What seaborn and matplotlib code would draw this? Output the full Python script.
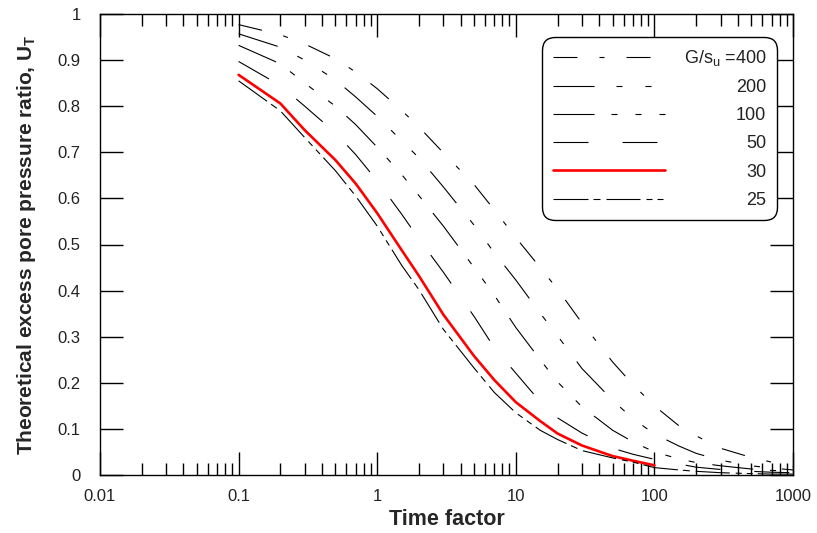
import matplotlib
matplotlib.use("Agg")
import matplotlib.pyplot as plt
import seaborn as sns
from matplotlib.ticker import LogLocator, FixedLocator, FixedFormatter, NullFormatter

# ---------------- data ----------------
time_factor = [0.1, 0.2, 0.3, 0.5, 0.7, 1, 1.5, 2, 3, 5, 7, 10, 15, 20, 30,
               50, 70, 100, 150, 200, 300, 500, 700, 1000]
u_400 = [0.977, 0.955, 0.935, 0.903, 0.874, 0.838, 0.791, 0.755, 0.699, 0.630,
         0.575, 0.515, 0.450, 0.403, 0.330, 0.245, 0.196, 0.150, 0.107, 0.085,
         0.058, 0.038, 0.028, 0.018]
u_200 = [0.957, 0.928, 0.900, 0.857, 0.820, 0.778, 0.725, 0.688, 0.625, 0.542,
         0.482, 0.423, 0.351, 0.302, 0.231, 0.162, 0.122, 0.089, 0.063, 0.047,
         0.032, 0.020, 0.015, 0.011]
u_100 = [0.932, 0.892, 0.850, 0.800, 0.760, 0.711, 0.652, 0.606, 0.540, 0.450,
         0.390, 0.320, 0.250, 0.202, 0.148, 0.097, 0.072, 0.050, 0.035, 0.027,
         0.020, 0.013, 0.010, 0.008]
u_50 = [0.897, 0.845, 0.800, 0.742, 0.695, 0.638, 0.566, 0.512, 0.440, 0.344,
        0.276, 0.221, 0.159, 0.124, 0.091, 0.058, 0.045, 0.034, 0.024, 0.017,
        0.012, 0.008, 0.006, 0.005]
time_factor_30 = [0.1, 0.2, 0.3, 0.5, 0.7, 1, 1.5, 2, 3, 5, 7, 10, 15, 20, 30,
                  50, 70, 100]
u_30 = [0.868, 0.806, 0.748, 0.683, 0.632, 0.568, 0.488, 0.432, 0.348, 0.258,
        0.206, 0.158, 0.117, 0.090, 0.064, 0.041, 0.031, 0.021]
u_25 = [0.855, 0.790, 0.732, 0.660, 0.605, 0.540, 0.455, 0.402, 0.316, 0.232,
        0.179, 0.135, 0.097, 0.077, 0.053, 0.037, 0.028, 0.016, 0.011, 0.008,
        0.005, 0.003, 0.002, 0.002]

legend_labels = ["G/s$_\\mathregular{u}$ =400", "200", "100", "50", "30", "25"]
x_tick_values = [0.01, 0.1, 1, 10, 100, 1000]
x_tick_labels = ["0.01", "0.1", "1", "10", "100", "1000"]
y_tick_values = [0, 0.1, 0.2, 0.3, 0.4, 0.5, 0.6, 0.7, 0.8, 0.9, 1]
y_tick_labels = ["0", "0.1", "0.2", "0.3", "0.4", "0.5", "0.6", "0.7", "0.8", "0.9", "1"]

# ---------------- style ----------------
sns.set_theme(style="white")
plt.rcParams["font.family"] = ["Liberation Sans", "DejaVu Sans"]
plt.rcParams["mathtext.fontset"] = "custom"
plt.rcParams["mathtext.rm"] = "Liberation Sans"
plt.rcParams["lines.scale_dashes"] = False

px = 0.72  # points per pixel at dpi 100


def dash(*pix):
    return (0, tuple(p * px for p in pix))


series = [
    (time_factor, u_400, "black", 0.8, dash(24, 22, 5, 22)),
    (time_factor, u_200, "black", 0.8, dash(41, 22, 6, 23, 6, 22)),
    (time_factor, u_100, "black", 0.8, dash(41, 17, 6, 18, 6, 18, 6, 18)),
    (time_factor, u_50, "black", 0.8, dash(35, 34)),
    (time_factor_30, u_30, "#ff0000", 1.9, "-"),
    (time_factor, u_25, "black", 0.8, dash(35, 5, 7, 6, 34, 6, 6, 5, 6, 5)),
]

fig = plt.figure(figsize=(8.17, 5.33), dpi=100)
ax = fig.add_axes([100 / 817, 58 / 533, 693 / 817, 461 / 533])

for (xs, ys, col, lw, ls), lab in zip(series, legend_labels):
    sns.lineplot(x=xs, y=ys, ax=ax, color=col, linewidth=lw, linestyle=ls,
                 label=lab, estimator=None, sort=False)

ax.set_xscale("log")
ax.set_xlim(0.01, 1000)
ax.set_ylim(0, 1)

ax.xaxis.set_major_locator(FixedLocator(x_tick_values))
ax.xaxis.set_major_formatter(FixedFormatter(x_tick_labels))
ax.xaxis.set_minor_locator(LogLocator(base=10, subs=range(2, 10), numticks=20))
ax.xaxis.set_minor_formatter(NullFormatter())
ax.yaxis.set_major_locator(FixedLocator(y_tick_values))
ax.yaxis.set_major_formatter(FixedFormatter(y_tick_labels))

ax.tick_params(which="both", direction="in", top=True, right=True,
               bottom=True, left=True, color="black", width=1.0)
ax.tick_params(which="major", length=16.5)
ax.tick_params(which="minor", length=8.6)
ax.tick_params(axis="x", which="major", pad=10, labelsize=12, labelcolor="#222222")
ax.tick_params(axis="y", which="major", pad=14, labelsize=12, labelcolor="#222222")

for sp in ax.spines.values():
    sp.set_color("black")
    sp.set_linewidth(1.0)
    sp.set_visible(True)

ax.set_xlabel("Time factor", fontsize=15.5, fontweight="bold", labelpad=4)
ax.set_ylabel("Theoretical excess pore pressure ratio, U$_\\mathregular{T}$",
              fontsize=15, fontweight="bold", labelpad=14)

handles, labels = ax.get_legend_handles_labels()
leg = ax.legend(handles, labels, loc="upper right",
                bbox_to_anchor=(0.977, 0.950), borderaxespad=0,
                frameon=True, fancybox=True, framealpha=1, edgecolor="black",
                facecolor="white", fontsize=13, handlelength=6.2,
                handletextpad=1.05, borderpad=0.6, labelspacing=0.62)
leg.get_frame().set_linewidth(1.0)
leg.get_frame().set_boxstyle("round,pad=0,rounding_size=0.7")
for t in leg.get_texts():
    t.set_color("#222222")

fig.canvas.draw()
renderer = fig.canvas.get_renderer()
widths = [t.get_window_extent(renderer).width for t in leg.get_texts()]
shift = max(widths)
for t, w in zip(leg.get_texts(), widths):
    t.set_ha("left")
    t.set_position((shift - w, 0))

fig.savefig("out.png", dpi=100)
